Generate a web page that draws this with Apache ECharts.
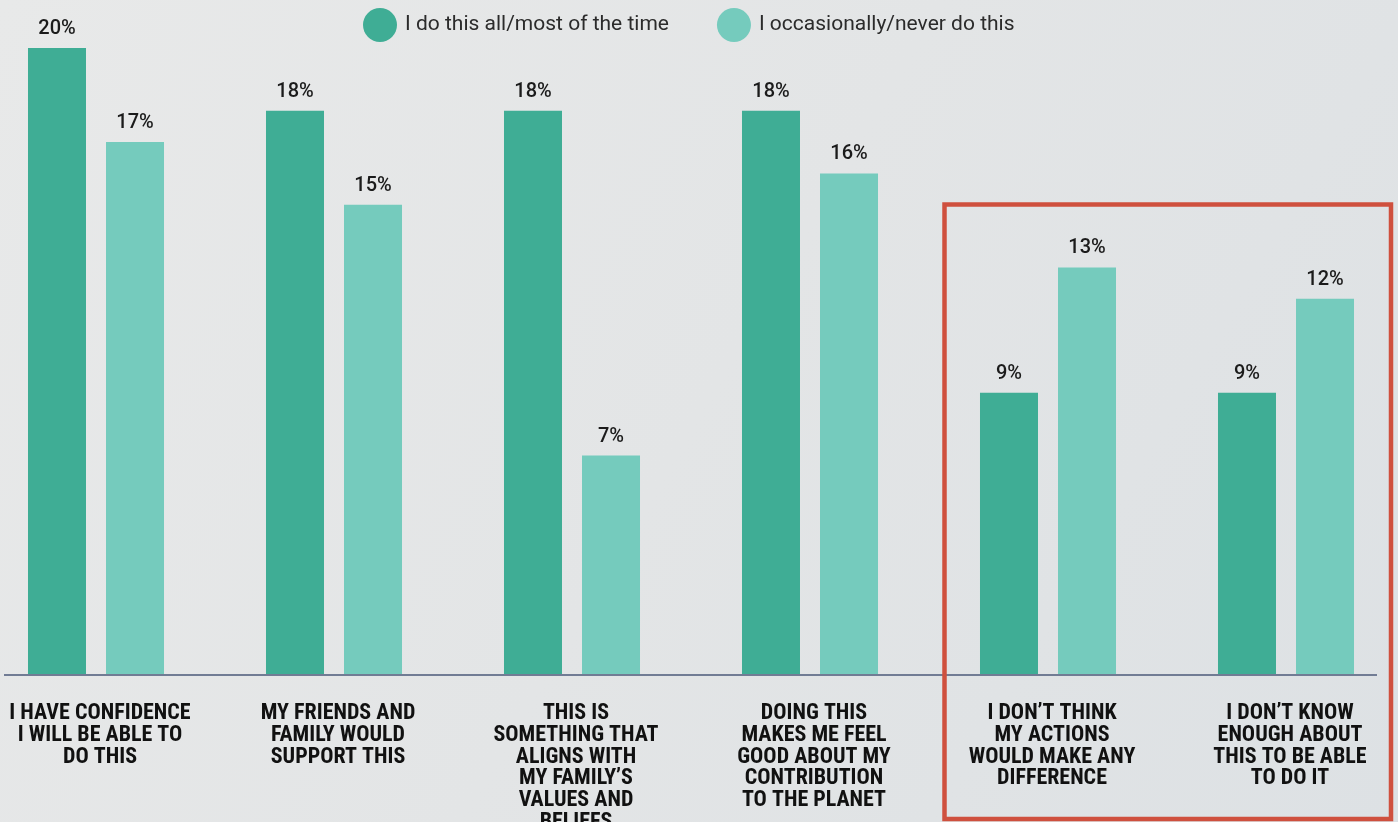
<!DOCTYPE html>
<html>
<head>
<meta charset="utf-8">
<script src="https://cdn.jsdelivr.net/npm/echarts@6/dist/echarts.min.js"></script>
<style>
  html, body { margin: 0; padding: 0; }
  #chart { width: 1398px; height: 822px; }
</style>
</head>
<body>
<div id="chart"></div>
<script>
// Reasons, two respondent groups, share of respondents (%)
const categories = [
  'I HAVE CONFIDENCE\nI WILL BE ABLE TO\nDO THIS',
  'MY FRIENDS AND\nFAMILY WOULD\nSUPPORT THIS',
  'THIS IS\nSOMETHING THAT\nALIGNS WITH\nMY FAMILY\u2019S\nVALUES AND\nBELIEFS',
  'DOING THIS\nMAKES ME FEEL\nGOOD ABOUT MY\nCONTRIBUTION\nTO THE PLANET',
  'I DON\u2019T THINK\nMY ACTIONS\nWOULD MAKE ANY\nDIFFERENCE',
  'I DON\u2019T KNOW\nENOUGH ABOUT\nTHIS TO BE ABLE\nTO DO IT'
];
const seriesNames = ['I do this all/most of the time', 'I occasionally/never do this'];
const frequentValues = [20, 18, 18, 18, 9, 9];
const occasionalValues = [17, 15, 7, 16, 13, 12];

const darkTeal = '#3fad95';
const lightTeal = '#75cbbd';

const chart = echarts.init(document.getElementById('chart'));

const valueLabel = {
  show: true,
  position: 'top',
  distance: 9,
  formatter: '{c}%',
  fontFamily: 'Roboto, "Noto Sans", sans-serif',
  fontSize: 20,
  fontWeight: 500,
  color: '#1b1b1b'
};

chart.setOption({
  animation: false,
  backgroundColor: {
    type: 'linear', x: 0, y: 0, x2: 1, y2: 1,
    colorStops: [
      { offset: 0, color: '#e8e9e9' },
      { offset: 0.5, color: '#e3e5e6' },
      { offset: 1, color: '#dde1e4' }
    ]
  },
  legend: {
    left: 363,
    top: 8,
    padding: 0,
    icon: 'circle',
    itemWidth: 34,
    itemHeight: 34,
    itemGap: 48,
    textStyle: {
      fontFamily: 'Roboto, "Noto Sans", sans-serif',
      fontSize: 21,
      color: '#2b2b2b',
      padding: [0, 0, 0, 3]
    },
    data: seriesNames
  },
  grid: {
    left: -23, width: 1428, top: 48, bottom: 147,
    containLabel: false,
    outerBoundsMode: 'none'
  },
  xAxis: {
    type: 'category',
    data: categories,
    axisLine: { show: false },
    axisTick: { show: false },
    axisLabel: {
      interval: 0,
      margin: 28,
      padding: [0, 0, 0, 8],
      fontFamily: '"Roboto Condensed", "Liberation Sans Narrow", "DejaVu Sans Condensed", sans-serif',
      fontWeight: 'bold',
      fontSize: 22,
      lineHeight: 21.7,
      color: '#111111',
      align: 'center'
    }
  },
  yAxis: {
    type: 'value',
    min: 0,
    max: 20,
    show: false,
    splitLine: { show: false }
  },
  series: [
    {
      name: seriesNames[0],
      type: 'bar',
      data: frequentValues,
      barWidth: 58,
      barGap: '34.5%',
      itemStyle: { color: darkTeal },
      label: valueLabel
    },
    {
      name: seriesNames[1],
      type: 'bar',
      data: occasionalValues,
      barWidth: 58,
      itemStyle: { color: lightTeal },
      label: valueLabel
    }
  ],
  graphic: [
    {
      type: 'line',
      shape: { x1: 4, y1: 675, x2: 1377, y2: 675 },
      style: { stroke: '#717c94', lineWidth: 2 },
      z: 10
    },
    {
      type: 'rect',
      shape: { x: 944.5, y: 204.5, width: 446.5, height: 614.5 },
      style: { fill: 'none', stroke: '#cf503e', lineWidth: 4.5 },
      z: 10
    }
  ]
});
</script>
</body>
</html>
